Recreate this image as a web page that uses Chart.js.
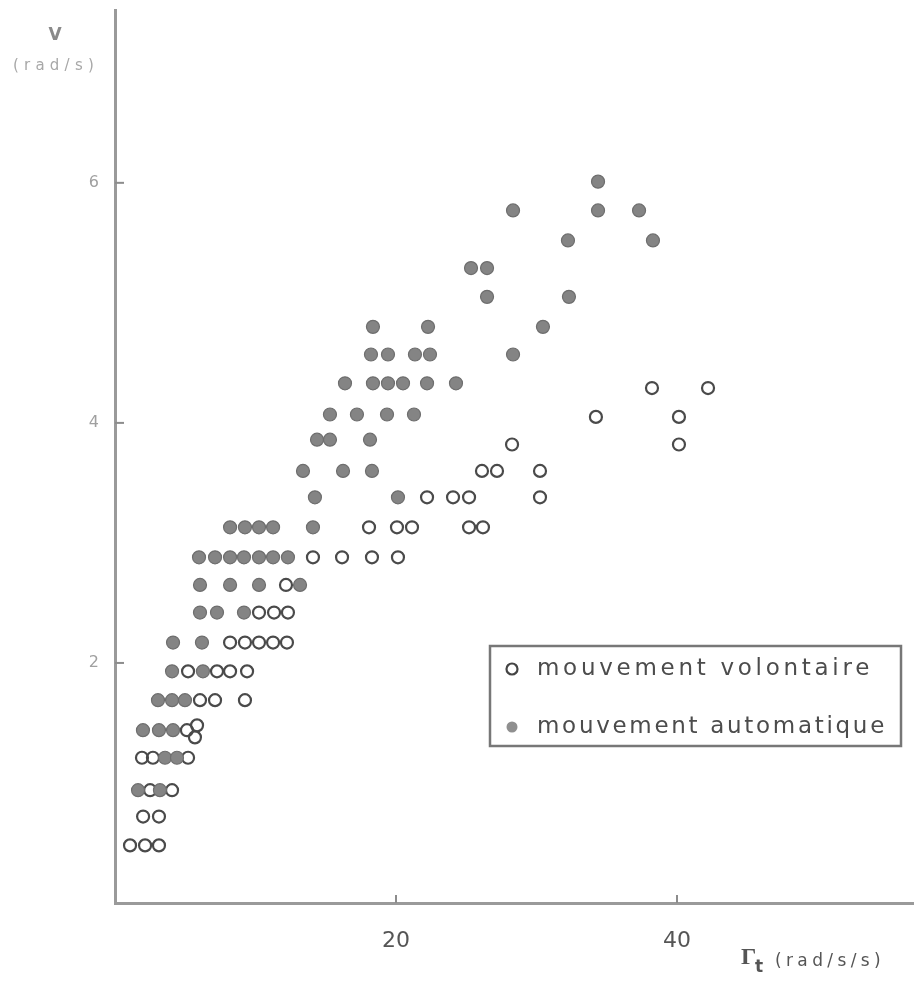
<!DOCTYPE html>
<html><head><meta charset="utf-8">
<script src="https://cdn.jsdelivr.net/npm/chart.js@4.4.1/dist/chart.umd.min.js"></script>
<style>html,body{margin:0;padding:0;background:#fff;overflow:hidden;}#wrap{width:914px;height:987px;position:relative;}canvas{display:block;}</style>
</head><body><div id="wrap"><canvas id="c" width="914" height="987"></canvas></div>
<script>
const seriesLabels = ['mouvement volontaire', 'mouvement automatique'];
const xTitle = ['\u0393', 't', '(rad/s/s)'];
const yTitle = ['V', '(rad/s)'];
const xTicks = [20, 40];
const yTicks = [2, 4, 6];
const xRange = [0, 56.87];
const yRange = [0, 7.44];

// mouvement volontaire (open circles)
const volontaireX = [1.07,2.14,3.13, 2.0,3.13, 2.5,4.06, 1.92,2.7,5.2, 5.12,5.84,5.69,
  6.05,7.12,9.25, 5.2,7.26,8.19,9.4, 8.19,9.25,10.25,11.25,12.24, 10.25,11.32,12.31, 12.17,
  14.09,16.16,18.29,20.14, 18.08,20.07,21.14,25.2,26.19, 22.21,24.06,25.2,30.25,
  26.12,27.19,30.25, 28.26,40.14, 34.23,40.14, 38.22,42.21];
const volontaireY = [0.48,0.48,0.48, 0.72,0.72, 0.94,0.94, 1.21,1.21,1.21, 1.44,1.48,1.38,
  1.69,1.69,1.69, 1.93,1.93,1.93,1.93, 2.17,2.17,2.17,2.17,2.17, 2.42,2.42,2.42, 2.65,
  2.88,2.88,2.88,2.88, 3.13,3.13,3.13,3.13,3.13, 3.38,3.38,3.38,3.38,
  3.6,3.6,3.6, 3.82,3.82, 4.05,4.05, 4.29,4.29];

// mouvement automatique (filled circles)
const automatiqueX = [1.64,3.2, 3.56,4.41, 1.99,3.13,4.13, 3.06,4.06,4.98, 4.06,6.26, 4.13,6.19,
  6.05,7.26,9.18, 6.05,8.19,10.25,13.17, 5.98,7.12,8.19,9.18,10.25,11.25,12.31,
  8.19,9.25,10.25,11.25,14.09, 14.23,20.14, 13.38,16.23,18.29, 14.38,15.3,18.15,
  15.3,17.22,19.36,21.28, 16.37,18.36,19.43,20.5,22.21,24.27, 18.22,19.43,21.35,22.42,28.33,
  18.36,22.28,30.46, 26.48,32.31, 25.34,26.48, 32.24,38.29, 28.33,34.38,37.3, 34.38];
const automatiqueY = [0.94,0.94, 1.21,1.21, 1.44,1.44,1.44, 1.69,1.69,1.69, 1.93,1.93, 2.17,2.17,
  2.42,2.42,2.42, 2.65,2.65,2.65,2.65, 2.88,2.88,2.88,2.88,2.88,2.88,2.88,
  3.13,3.13,3.13,3.13,3.13, 3.38,3.38, 3.6,3.6,3.6, 3.86,3.86,3.86,
  4.07,4.07,4.07,4.07, 4.33,4.33,4.33,4.33,4.33,4.33, 4.57,4.57,4.57,4.57,4.57,
  4.8,4.8,4.8, 5.05,5.05, 5.29,5.29, 5.52,5.52, 5.77,5.77,5.77, 6.01];

const toPts = (xs, ys) => xs.map((x, i) => ({x: x, y: ys[i]}));

function fitText(ctx, text, x, y, width, font, color) {
  ctx.font = font;
  ctx.fillStyle = color;
  ctx.textBaseline = 'middle';
  ctx.textAlign = 'left';
  ctx.letterSpacing = '0px';
  const w = ctx.measureText(text).width;
  const n = text.length;
  const ls = n > 1 ? Math.max(0, (width - w) / n) : 0;
  ctx.letterSpacing = ls + 'px';
  ctx.fillText(text, x, y);
  ctx.letterSpacing = '0px';
}

const zeroPad = s => { s.paddingTop = 0; s.paddingBottom = 0; s.paddingLeft = 0; s.paddingRight = 0; };

const decor = {
  id: 'decor',
  afterDraw(chart) {
    const {ctx, scales: {x, y}} = chart;
    ctx.save();
    // inward tick marks
    ctx.strokeStyle = '#8c8c8c';
    ctx.lineWidth = 2;
    yTicks.forEach(v => {
      const py = y.getPixelForValue(v);
      ctx.beginPath(); ctx.moveTo(x.left, py); ctx.lineTo(x.left + 9, py); ctx.stroke();
    });
    xTicks.forEach(v => {
      const px = x.getPixelForValue(v);
      ctx.beginPath(); ctx.moveTo(px, y.bottom); ctx.lineTo(px, y.bottom - 8); ctx.stroke();
    });
    // y title
    ctx.font = 'bold 17px "DejaVu Sans"';
    ctx.fillStyle = '#8a8a8a';
    ctx.textAlign = 'center'; ctx.textBaseline = 'middle';
    ctx.fillText(yTitle[0], 55, 36);
    fitText(ctx, yTitle[1], 13, 66, 86, '15px "DejaVu Sans"', '#a8a8a8');
    // x title
    ctx.font = 'bold 24px "Liberation Serif"';
    ctx.fillStyle = '#555';
    ctx.textAlign = 'left'; ctx.textBaseline = 'middle';
    ctx.fillText(xTitle[0], 741, 958);
    ctx.font = 'bold 17px "DejaVu Sans"';
    ctx.fillText(xTitle[1], 755, 968);
    fitText(ctx, xTitle[2], 775, 962, 110, '17px "DejaVu Sans"', '#555');
    // legend
    const bx = 490, by = 646, bw = 411, bh = 100;
    ctx.strokeStyle = '#777';
    ctx.lineWidth = 2.5;
    ctx.strokeRect(bx, by, bw, bh);
    const ds = chart.data.datasets;
    const rows = [{ds: ds[1], cy: 669, width: 336, filled: false}, {ds: ds[0], cy: 727, width: 350, filled: true}];
    rows.forEach(r => {
      ctx.beginPath();
      ctx.arc(512, r.cy, 5.5, 0, Math.PI * 2);
      if (r.filled) {
        ctx.fillStyle = '#8f8f8f'; ctx.fill();
      } else {
        ctx.lineWidth = 2.2; ctx.strokeStyle = '#444'; ctx.stroke();
      }
      fitText(ctx, r.ds.label, 537, r.cy, r.width, '23px "DejaVu Sans"', '#4c4c4c');
    });
    ctx.restore();
  }
};

new Chart(document.getElementById('c'), {
  type: 'scatter',
  data: {
    datasets: [
      {
        label: seriesLabels[1],
        data: toPts(automatiqueX, automatiqueY),
        pointRadius: 6.5,
        pointBackgroundColor: '#848484',
        backgroundColor: '#848484',
        pointBorderColor: '#6e6e6e',
        pointBorderWidth: 1.2
      },
      {
        label: seriesLabels[0],
        data: toPts(volontaireX, volontaireY),
        pointRadius: 6,
        pointBackgroundColor: 'rgba(255,255,255,0)',
        backgroundColor: '#ffffff',
        pointBorderColor: '#4a4a4a',
        pointBorderWidth: 2.2
      }
    ]
  },
  options: {
    responsive: false,
    animation: false,
    devicePixelRatio: 1,
    layout: {autoPadding: false, padding: {top: 10, right: 0, left: 0, bottom: 0}},
    plugins: {legend: {display: false}, tooltip: {enabled: false}},
    scales: {
      x: {
        type: 'linear', min: xRange[0], max: xRange[1],
        afterFit: s => { s.height = 84; zeroPad(s); },
        afterBuildTicks: s => { s.ticks = xTicks.map(v => ({value: v})); },
        border: {display: true, color: '#9a9a9a', width: 3},
        grid: {display: true, drawOnChartArea: false, drawTicks: false},
        ticks: {color: '#555', padding: 25, font: {family: '"DejaVu Sans"', size: 22}}
      },
      y: {
        type: 'linear', min: yRange[0], max: yRange[1],
        afterFit: s => { s.width = 115; zeroPad(s); },
        afterBuildTicks: s => { s.ticks = yTicks.map(v => ({value: v})); },
        border: {display: true, color: '#9a9a9a', width: 3},
        grid: {display: true, drawOnChartArea: false, drawTicks: false},
        ticks: {color: '#a0a0a0', padding: 16, font: {family: '"DejaVu Sans"', size: 16}}
      }
    }
  },
  plugins: [decor]
});
</script>
</body></html>
